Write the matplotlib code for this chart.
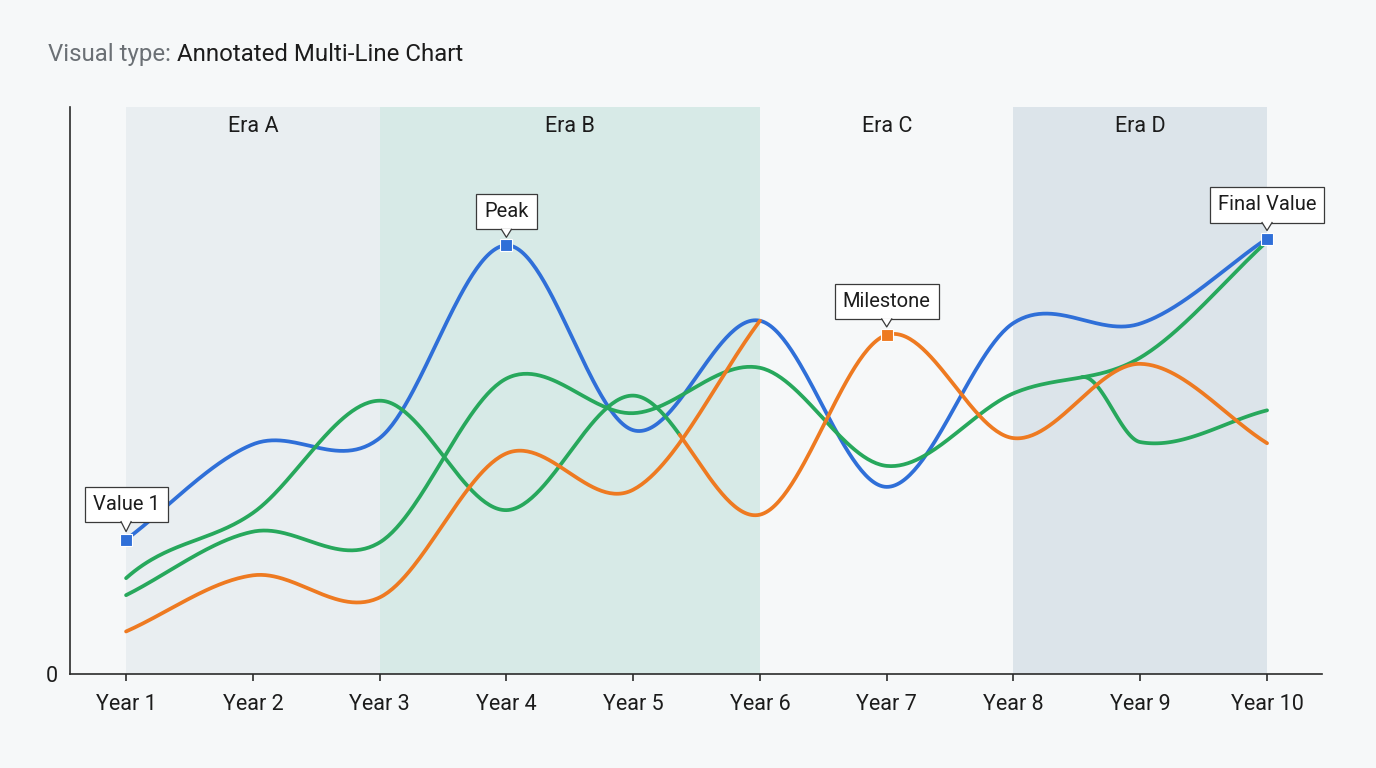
import numpy as np
import matplotlib
matplotlib.use("Agg")
import matplotlib.pyplot as plt
import matplotlib.transforms as mtransforms
from matplotlib.patches import Polygon

plt.rcParams['font.family'] = ['Roboto', 'DejaVu Sans']

# ---- data ----
years = ["Year 1", "Year 2", "Year 3", "Year 4", "Year 5",
         "Year 6", "Year 7", "Year 8", "Year 9", "Year 10"]
blue_vals = [23.7, 40.5, 41.6, 75.6, 43.0, 62.3, 33.0, 61.9, 61.8, 76.8]
orange_vals = [7.5, 17.4, 13.5, 38.9, 32.5, 62.3]            # Year 1 - Year 6
mixed_vals = [16.9, 28.4, 48.2, 28.9, 49.1, 28.1, 59.8, 41.6, 54.7, 40.7]
green_vals = [13.9, 25.1, 23.2, 52.1, 46.0, 54.0, 36.7, 49.5, 55.8, 76.3]
branch_vals = [40.9, 46.5]                                    # Year 9, Year 10

eras = ["Era A", "Era B", "Era C", "Era D"]
era_bounds = [(1, 3), (3, 6), (6, 8), (8, 10)]
era_colors = ["#e9eef1", "#d7eae7", None, "#dce4ea"]

BLUE = "#2f6fd8"
ORANGE = "#ee7a21"
GREEN = "#27a85c"
BG = "#f6f8f9"
INK = "#2b2b2b"


def hermite(xs, ys, n=60, m_start=None):
    xs = np.asarray(xs, float)
    ys = np.asarray(ys, float)
    m = np.zeros_like(ys)
    m[0] = (ys[1] - ys[0]) / (xs[1] - xs[0])
    m[-1] = (ys[-1] - ys[-2]) / (xs[-1] - xs[-2])
    for i in range(1, len(xs) - 1):
        m[i] = (ys[i + 1] - ys[i - 1]) / (xs[i + 1] - xs[i - 1])
    if m_start is not None:
        m[0] = m_start
    px, py = [], []
    for i in range(len(xs) - 1):
        h = xs[i + 1] - xs[i]
        t = np.linspace(0, 1, n, endpoint=(i == len(xs) - 2))
        h00 = 2 * t**3 - 3 * t**2 + 1
        h10 = t**3 - 2 * t**2 + t
        h01 = -2 * t**3 + 3 * t**2
        h11 = t**3 - t**2
        px.append(xs[i] + t * h)
        py.append(h00 * ys[i] + h10 * h * m[i] + h01 * ys[i + 1] + h11 * h * m[i + 1])
    return np.concatenate(px), np.concatenate(py)


x = np.arange(1, len(years) + 1)

fig = plt.figure(figsize=(13.76, 7.68), dpi=100, facecolor=BG)
ax = fig.add_axes([0.0509, 0.1224, 0.9099, 0.7383])
ax.set_facecolor("none")
ax.set_xlim(0.558, 10.434)
ax.set_ylim(0, 100)

# era bands
for name, (a, b), c in zip(eras, era_bounds, era_colors):
    if c:
        ax.axvspan(a, b, color=c, lw=0, zorder=0)
    ax.text((a + b) / 2, 0.966, name, transform=ax.get_xaxis_transform(),
            ha="center", va="center", fontsize=15.5, color="#1c1c1c")

lw = 2.7
# blue
bx, by = hermite(x, blue_vals)
ax.plot(bx, by, color=BLUE, lw=lw, zorder=3, solid_capstyle="round")

# green main + branch
gx, gy = hermite(x, green_vals)
ax.plot(gx, gy, color=GREEN, lw=lw, zorder=4, solid_capstyle="round")
split_b = 8.54
k = np.searchsorted(gx, split_b)
slope = (gy[k + 1] - gy[k - 1]) / (gx[k + 1] - gx[k - 1])
brx, bry = hermite([split_b, 9, 10], [gy[k]] + branch_vals, m_start=slope)
ax.plot(brx, bry, color=GREEN, lw=lw, zorder=4, solid_capstyle="round")

# mixed series: green until ~5.37, orange after
mx, my = hermite(x, mixed_vals, m_start=20.0)
switch = 5.37
g = mx <= switch
ax.plot(mx[g], my[g], color=GREEN, lw=lw, zorder=4, solid_capstyle="round")
ax.plot(mx[mx >= switch - 0.01], my[mx >= switch - 0.01], color=ORANGE, lw=lw,
        zorder=5, solid_capstyle="round")

# orange first half
ox, oy = hermite(x[:len(orange_vals)], orange_vals)
ax.plot(ox, oy, color=ORANGE, lw=lw, zorder=5, solid_capstyle="round")

# annotated points
fs_note = 14.5
pad = 0.40
pad_px = pad * fs_note * 100 / 72
notes = [
    ("Value 1", 1, blue_vals[0], BLUE, 18),
    ("Peak", 4, blue_vals[3], BLUE, 16),
    ("Milestone", 7, mixed_vals[6], ORANGE, 16),
    ("Final Value", 10, blue_vals[9], BLUE, 16),
]
for label, xv, yv, col, off in notes:
    ax.plot([xv], [yv], marker="s", ms=8, color=col, mec="white", mew=0.8,
            zorder=8, linestyle="none")
    ax.annotate(label, xy=(xv, yv), xytext=(0, (off + pad_px) * 0.72),
                textcoords="offset points", ha="center", va="bottom",
                fontsize=fs_note, color="#1c1c1c", zorder=9,
                bbox=dict(boxstyle=f"square,pad={pad}", fc="white", ec="#3a3a3a", lw=0.9))
    tr = fig.dpi_scale_trans + mtransforms.ScaledTranslation(xv, yv, ax.transData)
    tri = Polygon([(-0.05, (off + 0.6) / 100), (0, 0.08), (0.05, (off + 0.6) / 100)],
                  closed=True, fc="white", ec="none", transform=tr, zorder=10,
                  clip_on=False)
    ax.add_patch(tri)
    ax.plot([-0.05, 0, 0.05], [off / 100, 0.08, off / 100], color="#3a3a3a",
            lw=0.9, transform=tr, zorder=10, clip_on=False)

# axes styling
for s in ["top", "right"]:
    ax.spines[s].set_visible(False)
for s in ["left", "bottom"]:
    ax.spines[s].set_color(INK)
    ax.spines[s].set_linewidth(1.2)
ax.set_xticks(x)
ax.set_xticklabels(years, fontsize=15.5, color="#1c1c1c")
ax.tick_params(axis="x", length=5, width=1.2, color=INK, pad=9.5)
ax.set_yticks([0])
ax.set_yticklabels(["0"], fontsize=15.5, color="#1c1c1c")
ax.tick_params(axis="y", length=0, pad=9)

# title
t1 = fig.text(48 / 1376, 1 - 61 / 768, "Visual type: ", fontsize=17.3,
              color="#6b7075", va="baseline", ha="left")
ax.annotate("Annotated Multi-Line Chart", xy=(1, 0), xycoords=t1,
            va="bottom", ha="left", fontsize=17.3, color="#1c1c1c",
            annotation_clip=False)

fig.savefig("out.png", dpi=100, facecolor=BG)
